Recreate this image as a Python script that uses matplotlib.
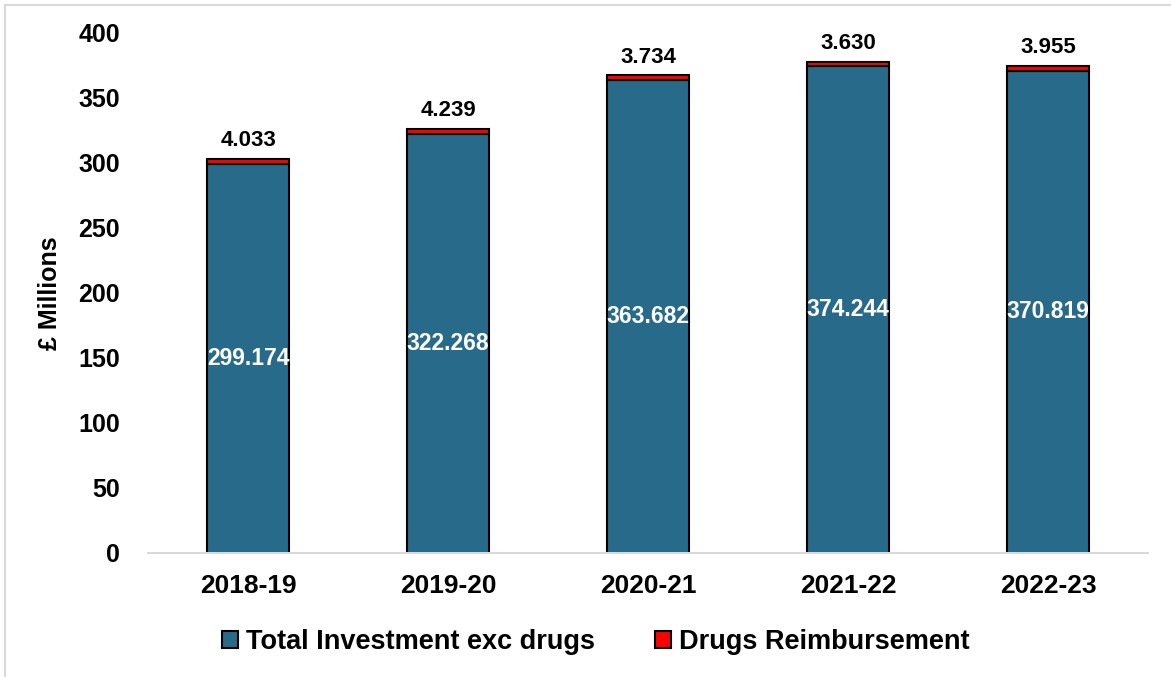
import matplotlib.pyplot as plt
import numpy as np

years = ['2018-19', '2019-20', '2020-21', '2021-22', '2022-23']
investment = [299.174, 322.268, 363.682, 374.244, 370.819]
drugs = [4.033, 4.239, 3.734, 3.630, 3.955]

plt.rcParams['font.family'] = ['Liberation Sans', 'DejaVu Sans']
plt.rcParams['font.weight'] = 'bold'

fig = plt.figure(figsize=(11.71, 6.77), dpi=100)
ax = fig.add_axes([0.1264, 0.1832, 0.854, 0.7681])

x = np.arange(len(years))
w = 0.41
b1 = ax.bar(x, investment, w, color='#286A89', edgecolor='black', linewidth=1.5,
            label='Total Investment exc drugs')
b2 = ax.bar(x, drugs, w, bottom=investment, color='#FF0000', edgecolor='black', linewidth=1.5,
            label='Drugs Reimbursement')

for i in range(len(years)):
    ax.text(x[i], investment[i] / 2, f'{investment[i]:.3f}', ha='center', va='center',
            color='white', fontsize=16.5, fontweight='bold')
    ax.text(x[i], investment[i] + drugs[i] + 6, f'{drugs[i]:.3f}', ha='center', va='bottom',
            color='black', fontsize=16, fontweight='bold')

ax.set_xlim(-0.5, len(years) - 0.5)
ax.set_ylim(0, 400)
ax.set_yticks(range(0, 401, 50))
ax.set_xticks(x)
ax.set_xticklabels(years)
ax.tick_params(axis='both', length=0)
ax.tick_params(axis='y', pad=20, labelsize=18)
ax.tick_params(axis='x', pad=15, labelsize=19)
for s in ['top', 'right', 'left']:
    ax.spines[s].set_visible(False)
ax.spines['bottom'].set_color('#d9d9d9')
ax.spines['bottom'].set_linewidth(1.5)
ax.set_ylabel('£ Millions', fontsize=18, fontweight='bold', labelpad=12)

ax.legend(loc='center', bbox_to_anchor=(0.448, -0.172), ncol=2, frameon=False, fontsize=19.5,
          handlelength=0.6, handleheight=0.6, handletextpad=0.3, columnspacing=2.2)

# light frame on top and left
fig.add_artist(plt.Line2D([0.0045, 0.0045], [0, 0.993], color='#d9d9d9', linewidth=1.5))
fig.add_artist(plt.Line2D([0.0045, 1], [0.993, 0.993], color='#d9d9d9', linewidth=1.5))

fig.savefig('out.png', dpi=100)
